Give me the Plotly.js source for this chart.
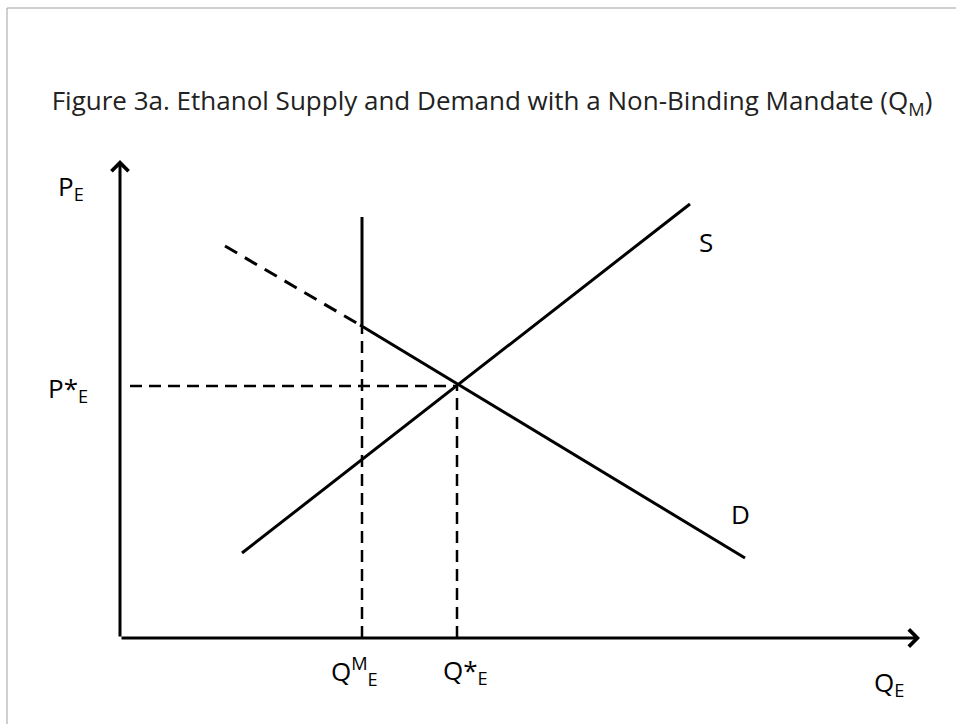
<!DOCTYPE html>
<html>
<head>
<meta charset="utf-8">
<script src="https://cdn.plot.ly/plotly-3.0.1.min.js"></script>
<style>html,body{margin:0;padding:0;background:#fff;}#chart{width:956px;height:724px;}</style>
</head>
<body>
<div id="chart"></div>
<script>
// Data (quantity on x, price on y)
const supplyQ = [122, 570];
const supplyP = [85, 434];
const demandDashQ = [105, 240];
const demandDashP = [392, 313];
const demandSolidQ = [240, 625];
const demandSolidP = [313, 80];
const mandateQ = 242;
const mandateTopP = 421;
const eqQ = 337;
const eqP = 252;
const guideStartQ = 10;
const axisMaxQ = 800;
const axisMaxP = 478;

const titleText = 'Figure 3a. Ethanol Supply and Demand with a Non-Binding Mandate (Q<sub>M</sub>)';
const labelTexts = ['P<sub>E</sub>', 'P*<sub>E</sub>', 'Q<sup>M</sup><sub>E</sub>', 'Q*<sub>E</sub>', 'Q<sub>E</sub>', 'S', 'D'];

const FONT = '"Open Sans", Lato, sans-serif';
const solid = {color: '#000', width: 3};
const dashed = {color: '#000', width: 2.5, dash: '12px,7px'};

const traces = [
  {x: supplyQ, y: supplyP, mode: 'lines', line: solid},
  {x: demandSolidQ, y: demandSolidP, mode: 'lines', line: solid},
  {x: demandDashQ, y: demandDashP, mode: 'lines', line: {color: '#000', width: 3, dash: '14px,9px'}},
  {x: [mandateQ, mandateQ], y: [demandSolidP[0], mandateTopP], mode: 'lines', line: solid},
  {x: [mandateQ, mandateQ], y: [0, demandSolidP[0]], mode: 'lines', line: dashed},
  {x: [guideStartQ, eqQ], y: [eqP, eqP], mode: 'lines', line: dashed},
  {x: [eqQ, eqQ], y: [0, eqP], mode: 'lines', line: dashed}
].map(t => Object.assign({hoverinfo: 'skip', showlegend: false, type: 'scatter'}, t));

const labelPos = [[-49, 451], [-52, 249], [234, -33], [345, -33], [769, -45], [586, 396], [620, 124]];
const annotations = labelTexts.map((t, i) => ({
  x: labelPos[i][0], y: labelPos[i][1], xref: 'x', yref: 'y', text: t, showarrow: false,
  font: {family: FONT, size: 26, color: '#000'}, xanchor: 'center', yanchor: 'middle'
}));
// axis arrows
annotations.push({x: 0, y: axisMaxP, ax: 0, ay: 0, xref: 'x', yref: 'y', axref: 'x', ayref: 'y',
  showarrow: true, arrowhead: 4, arrowsize: 1.1, arrowwidth: 3, arrowcolor: '#000', text: ''});
annotations.push({x: axisMaxQ, y: 0, ax: 0, ay: 0, xref: 'x', yref: 'y', axref: 'x', ayref: 'y',
  showarrow: true, arrowhead: 4, arrowsize: 1.1, arrowwidth: 3, arrowcolor: '#000', text: ''});

const layout = {
  width: 956, height: 724,
  margin: {l: 0, r: 0, t: 0, b: 0},
  paper_bgcolor: '#fff', plot_bgcolor: '#fff',
  title: {text: titleText, font: {family: FONT, size: 26, color: '#222'}, x: 492 / 956, xanchor: 'center', y: 1 - 101 / 724, yanchor: 'middle', xref: 'container', yref: 'container'},
  xaxis: {range: [-120, 836], showgrid: false, zeroline: false, showticklabels: false, showline: false, fixedrange: true},
  yaxis: {range: [-86, 638], showgrid: false, zeroline: false, showticklabels: false, showline: false, fixedrange: true},
  annotations: annotations,
  shapes: [{type: 'rect', xref: 'paper', yref: 'paper', x0: 7 / 956, x1: 1.05, y0: -0.05, y1: 1 - 8 / 724,
    line: {color: '#a0a0a0', width: 1}, fillcolor: 'rgba(0,0,0,0)', layer: 'below'}]
};

Plotly.newPlot('chart', traces, layout, {displayModeBar: false, staticPlot: true});
</script>
</body>
</html>
